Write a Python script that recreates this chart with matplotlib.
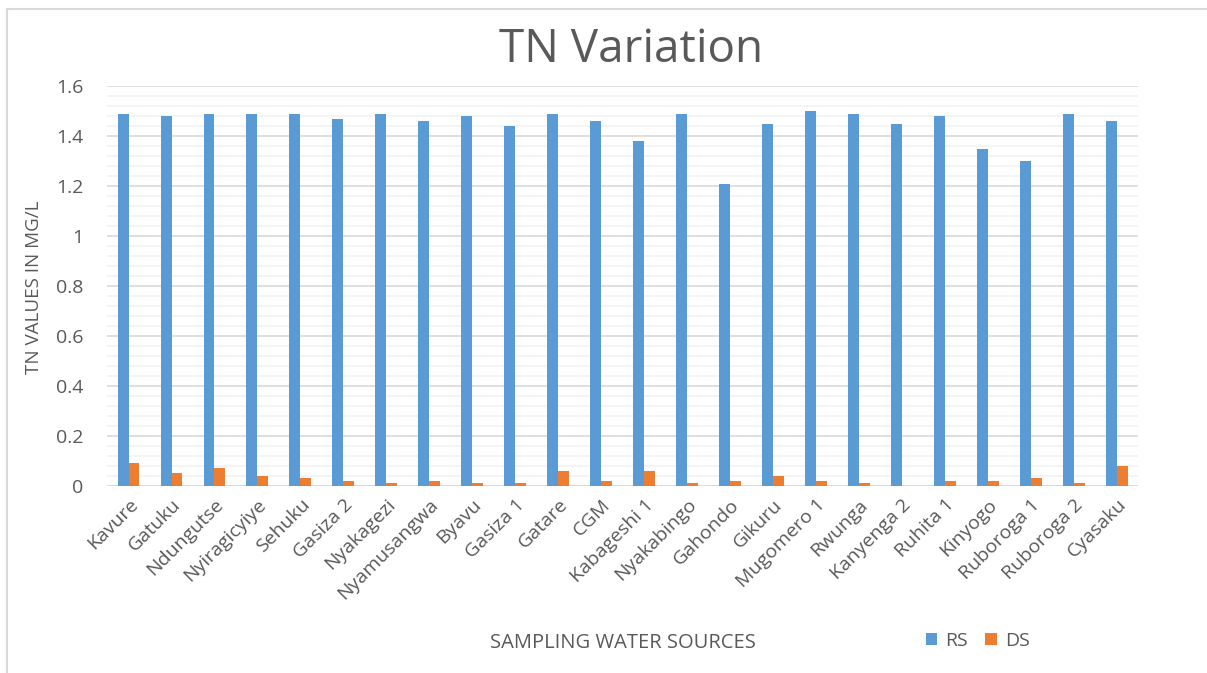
import matplotlib
matplotlib.use("Agg")
import matplotlib.pyplot as plt
import numpy as np
from matplotlib.lines import Line2D
from matplotlib.ticker import MultipleLocator

plt.rcParams['font.family'] = ['Open Sans', 'DejaVu Sans']

sources = ["Kavure", "Gatuku", "Ndungutse", "Nyiragicyiye", "Sehuku", "Gasiza 2",
           "Nyakagezi", "Nyamusangwa", "Byavu", "Gasiza 1", "Gatare", "CGM",
           "Kabageshi 1", "Nyakabingo", "Gahondo", "Gikuru", "Mugomero 1", "Rwunga",
           "Kanyenga 2", "Ruhita 1", "Kinyogo", "Ruboroga 1", "Ruboroga 2", "Cyasaku"]
rs = [1.49, 1.48, 1.49, 1.49, 1.49, 1.47, 1.49, 1.46, 1.48, 1.44, 1.49, 1.46,
      1.38, 1.49, 1.21, 1.45, 1.50, 1.49, 1.45, 1.48, 1.35, 1.30, 1.49, 1.46]
ds = [0.09, 0.05, 0.07, 0.04, 0.03, 0.02, 0.01, 0.02, 0.01, 0.01, 0.06, 0.02,
      0.06, 0.01, 0.02, 0.04, 0.02, 0.01, 0.00, 0.02, 0.02, 0.03, 0.01, 0.08]

blue = "#5b9bd5"
orange = "#ed7d31"
txt = "#595959"

fig = plt.figure(figsize=(12.07, 6.73), dpi=100)
ax = fig.add_axes([0.0887, 0.278, 0.8543, 0.594])

x = np.arange(len(sources))
w = 0.255
ax.bar(x - w / 2, rs, w, color=blue, label="RS", zorder=3)
ax.bar(x + w / 2, ds, w, color=orange, label="DS", zorder=3)

ax.set_xlim(-0.5, len(sources) - 0.5)
ax.set_ylim(0, 1.6)
ax.yaxis.set_minor_locator(MultipleLocator(0.04))
ax.set_yticks(np.arange(0, 1.61, 0.2))
ax.set_yticklabels(["0", "0.2", "0.4", "0.6", "0.8", "1", "1.2", "1.4", "1.6"])
ax.grid(which="major", axis="y", color="#d9d9d9", linewidth=1.2, zorder=0)
ax.grid(which="minor", axis="y", color="#f2f2f2", linewidth=1.2, zorder=0)
for s in ax.spines.values():
    s.set_visible(False)
ax.axhline(0, color="#d9d9d9", linewidth=1.2, zorder=2)
ax.tick_params(axis="both", which="both", length=0, colors=txt, labelsize=14)
ax.tick_params(axis="y", pad=17)

ax.set_xticks(x)
ax.set_xticklabels(sources, rotation=45, ha="right", rotation_mode="anchor")
ax.tick_params(axis="x", pad=7)

fig.text(0.523, 0.925, "TN Variation", ha="center", va="center", fontsize=33, color=txt)
fig.text(0.028, 0.573, "TN VALUES IN MG/L", rotation=90, ha="center", va="center",
         fontsize=13.5, color=txt)
fig.text(0.516, 0.044, "SAMPLING WATER SOURCES", ha="center", va="center",
         fontsize=14.5, color=txt)

leg = fig.legend(loc="center", bbox_to_anchor=(0.81, 0.048), ncol=2, frameon=False,
                 fontsize=14, handlelength=0.6, handleheight=0.6, columnspacing=0.9,
                 handletextpad=0.4)
for t in leg.get_texts():
    t.set_color(txt)

# outer chart frame (left and top edges)
fig.add_artist(Line2D([0.006, 0.006], [0, 0.987], transform=fig.transFigure,
                      color="#d9d9d9", linewidth=1.5))
fig.add_artist(Line2D([0.006, 1.0], [0.987, 0.987], transform=fig.transFigure,
                      color="#d9d9d9", linewidth=1.5))

fig.savefig("out.png", dpi=100, facecolor="white")
